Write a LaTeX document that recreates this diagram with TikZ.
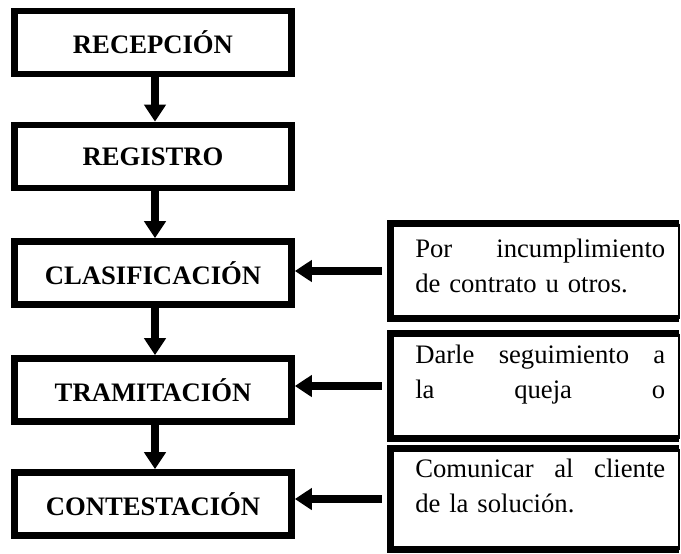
\documentclass[tikz,border=0pt]{standalone}
\usepackage{fontspec}
\setmainfont{Liberation Serif}
\usetikzlibrary{arrows.meta,positioning,calc}
\tikzset{
  paso/.style={draw=black, line width=5pt, minimum width=207.75pt, minimum height=47.25pt,
               inner sep=0pt, font=\fontsize{20}{24}\selectfont\bfseries},
  nota/.style={inner sep=0pt, outer sep=0pt, minimum width=216.4pt},
  notatxt/.style={anchor=base west, inner sep=0pt, text width=187.5pt, align=left,
                  font=\fontsize{20}{26.25}\selectfont},
  flecha/.style={-{Triangle[width=15.75pt,length=12.75pt]}, line width=6pt},
  borde/.style={line width=5pt},
  fino/.style={line width=1.2pt},
}

\begin{document}
\begin{tikzpicture}[x=0.75pt, y=-0.75pt]
    \useasboundingbox (0,0) rectangle (681,553);
    % pasos del proceso
    \node[paso] (p1) at (153,42.5) {RECEPCIÓN};
    \node[paso] (p2) at (153,156.5) {REGISTRO};
    \node[paso] (p3) at (153,273) {CLASIFICACIÓN};
    \node[paso] (p4) at (153,390) {TRAMITACIÓN};
    \node[paso] (p5) at (153,504) {CONTESTACIÓN};
    \foreach \a/\b in {p1/p2, p2/p3, p3/p4, p4/p5}
      \draw[flecha] ([xshift=1.5pt]\a.south) -- ([xshift=1.5pt]\b.north);
    % notas
    \node[nota, minimum height=71.25pt] (n1) at (534.75,271) {};
    \node[nota, minimum height=78.75pt] (n2) at (534.75,386) {};
    \node[nota, minimum height=75.75pt] (n3) at (534.75,499) {};
    \foreach \n in {n1,n2,n3} {
      \draw[borde] (\n.north east) -- (\n.north west) -- (\n.south west) -- (\n.south east);
      \draw[fino] (\n.north east) -- (\n.south east);
    }
    \node[notatxt] (t1) at ($(n1.north west)+(24.5,33.5)$) {Por\hfill incumplimiento\\de contrato u otros.};
    \node[notatxt] (t2) at ($(n2.north west)+(24.5,29.5)$) {Darle\hfill seguimiento\hfill a\\la\hfill queja\hfill o};
    \node[notatxt] (t3) at ($(n3.north west)+(24.5,28.5)$) {Comunicar\hfill al\hfill cliente\\de la solución.};
    \draw[flecha] ([xshift=-6.4pt]n1.west) -- (n1.west -| p3.east);
    \draw[flecha] ([xshift=-6.4pt]n2.west) -- (n2.west -| p4.east);
    \draw[flecha] ([xshift=-6.4pt]n3.west) -- (n3.west -| p5.east);
\end{tikzpicture}
\end{document}
